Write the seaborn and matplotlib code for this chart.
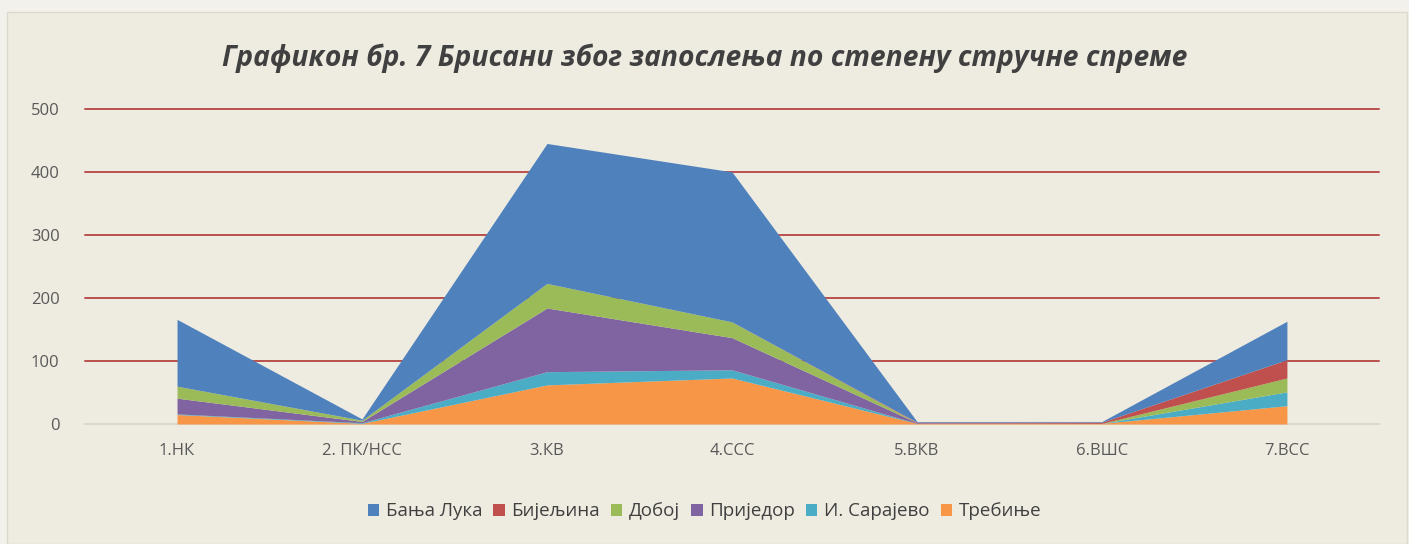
import matplotlib

matplotlib.use("Agg")
import matplotlib.pyplot as plt
from matplotlib.patches import Patch, Rectangle
import seaborn as sns

categories = ["1.НК", "2. ПК/НСС", "3.КВ", "4.ССС", "5.ВКВ", "6.ВШС", "7.ВСС"]
banja_luka = [106, 2, 222, 238, 1, 1, 61]
bijeljina = [0, 0, 0, 0, 1, 2, 29]
doboj = [19, 2, 39, 25, 0, 0, 22]
prijedor = [25, 2, 101, 51, 1, 0, 0]
i_sarajevo = [1, 1, 21, 13, 0, 0, 22]
trebinje = [15, 1, 62, 73, 1, 1, 29]
series_names = ["Бања Лука", "Бијељина", "Добој", "Приједор", "И. Сарајево", "Требиње"]
y_ticks = [0, 100, 200, 300, 400, 500]
title = "Графикон бр. 7 Брисани због запослења по степену стручне спреме"

colors = ["#4f81bd", "#c0504d", "#9bbb59", "#8064a2", "#4bacc6", "#f79646"]
series = [banja_luka, bijeljina, doboj, prijedor, i_sarajevo, trebinje]

sns.set_theme(style="white")
plt.rcParams["font.family"] = ["Open Sans", "DejaVu Sans"]

fig = plt.figure(figsize=(14.09, 5.44), dpi=100)
fig.patch.set_facecolor("#f3f1eb")
fig.add_artist(Rectangle((7 / 1409, 0.0), 1400 / 1409, 1 - 12 / 544,
                         transform=fig.transFigure, facecolor="#eeebe0",
                         edgecolor="#dcd9cf", linewidth=1.0, zorder=-1))

ax = fig.add_axes([0.060, 0.2206, 0.919, 0.5794])
ax.set_facecolor("#eeebe0")
ax.patch.set_alpha(0)

x = list(range(len(categories)))
# Excel stacks the last series at the bottom
ax.stackplot(x, series[::-1], colors=colors[::-1], linewidth=0, zorder=3)

for t in y_ticks[1:]:
    ax.axhline(t, color="#b8504e", linewidth=1.4, zorder=1, clip_on=False)
ax.axhline(0, color="#d6d3ca", linewidth=1.2, zorder=1, clip_on=False)

ax.set_xlim(-0.5, len(categories) - 0.5)
ax.set_ylim(0, 500)
ax.set_yticks(y_ticks)
ax.set_yticklabels([str(t) for t in y_ticks], fontsize=12, color="#595959")
ax.set_xticks(x)
ax.set_xticklabels(categories, fontsize=12, color="#595959")
ax.tick_params(axis="both", length=0)
ax.tick_params(axis="x", pad=14)
ax.tick_params(axis="y", pad=18)
for s in ax.spines.values():
    s.set_visible(False)

fig.text(0.5, 0.893, title, ha="center", va="center", fontsize=20.3,
         fontstyle="italic", fontweight="bold", color="#404040")

handles = [Patch(facecolor=c, edgecolor="none", label=n) for n, c in zip(series_names, colors)]
fig.legend(handles=handles, loc="center", bbox_to_anchor=(0.5, 0.06), ncol=6,
           frameon=False, fontsize=13.5, handlelength=0.6, handleheight=0.6,
           handletextpad=0.35, columnspacing=0.6, labelcolor="#404040")

fig.savefig("out.png", dpi=100, facecolor=fig.get_facecolor())
